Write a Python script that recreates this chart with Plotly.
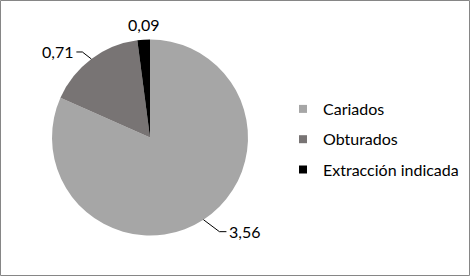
import math
import plotly.graph_objects as go

categories = ["Cariados", "Obturados", "Extracción indicada"]
values = [3.56, 0.71, 0.09]
colors = ["#A6A6A6", "#787474", "#000000"]

W, H = 471, 277
CX, CY, R = 150, 137.5, 98  # pie center / radius in px

FONT = "Lato, 'Open Sans', sans-serif"
FS = 16

fig = go.Figure()
fig.add_trace(go.Pie(
    labels=categories, values=values, sort=False, direction="clockwise",
    rotation=0, marker=dict(colors=colors, line=dict(width=0)),
    textinfo="none", showlegend=False, hoverinfo="label+value",
    domain=dict(x=[(CX - R) / W, (CX + R) / W], y=[1 - (CY + R) / H, 1 - (CY - R) / H]),
))

# legend entries
for c, col in zip(categories, colors):
    fig.add_trace(go.Scatter(x=[None], y=[None], mode="markers", name=c, legendgroup=c,
                             marker=dict(symbol="square", size=8, color=col)))

def px(x, y):
    return x / W, 1 - y / H

# labels with leader lines, positions derived from slice angles
total = sum(values)
label_offsets = [(23, 12, "left", True), (-15, -7, "right", True), (0, -15, "center", False)]
cum = 0
shapes = []
annotations = []
for v, (dx, dy, anchor, leader) in zip(values, label_offsets):
    mid = (cum + v / 2) / total * 2 * math.pi
    cum += v
    ex = CX + R * math.sin(mid)
    ey = CY - R * math.cos(mid)
    lx, ly = ex + dx, ey + dy
    txt = f"{v:.2f}".replace(".", ",")
    if leader:
        if anchor == "left":
            pts = [(ex, ey), (lx - 7, ly), (lx, ly)]
            tx = lx + 1
        else:
            pts = [(ex, ey), (lx + 6, ly), (lx, ly)]
            tx = lx - 1
        path = "M " + " L ".join(f"{px(a, b)[0]},{px(a, b)[1]}" for a, b in pts)
        shapes.append(dict(type="path", path=path, xref="paper", yref="paper",
                           line=dict(color="#000000", width=1)))
    else:
        tx = lx
    ax_, ay_ = px(tx, ly)
    annotations.append(dict(x=ax_, y=ay_, xref="paper", yref="paper", text=txt,
                            showarrow=False, xanchor=anchor, yanchor="middle",
                            font=dict(family=FONT, size=FS, color="#000000")))

shapes.append(dict(type="rect", xref="paper", yref="paper", x0=0.5 / W, x1=1 - 1.5 / W,
                   y0=1.5 / H, y1=1 - 0.5 / H, line=dict(color="#868686", width=1)))

fig.update_layout(
    width=W, height=H, margin=dict(l=0, r=0, t=0, b=0, autoexpand=False),
    paper_bgcolor="white", plot_bgcolor="white",
    xaxis=dict(visible=False), yaxis=dict(visible=False),
    shapes=shapes, annotations=annotations,
    legend=dict(x=283 / W, y=1 - 92 / H, xanchor="left", yanchor="top",
                font=dict(family=FONT, size=FS, color="#000000"),
                tracegroupgap=6.5, itemwidth=30, bgcolor="rgba(0,0,0,0)"),
)
fig.write_html("out.html", config={"displayModeBar": False},
               post_script="document.body.style.margin='0';document.body.style.overflow='hidden';")
